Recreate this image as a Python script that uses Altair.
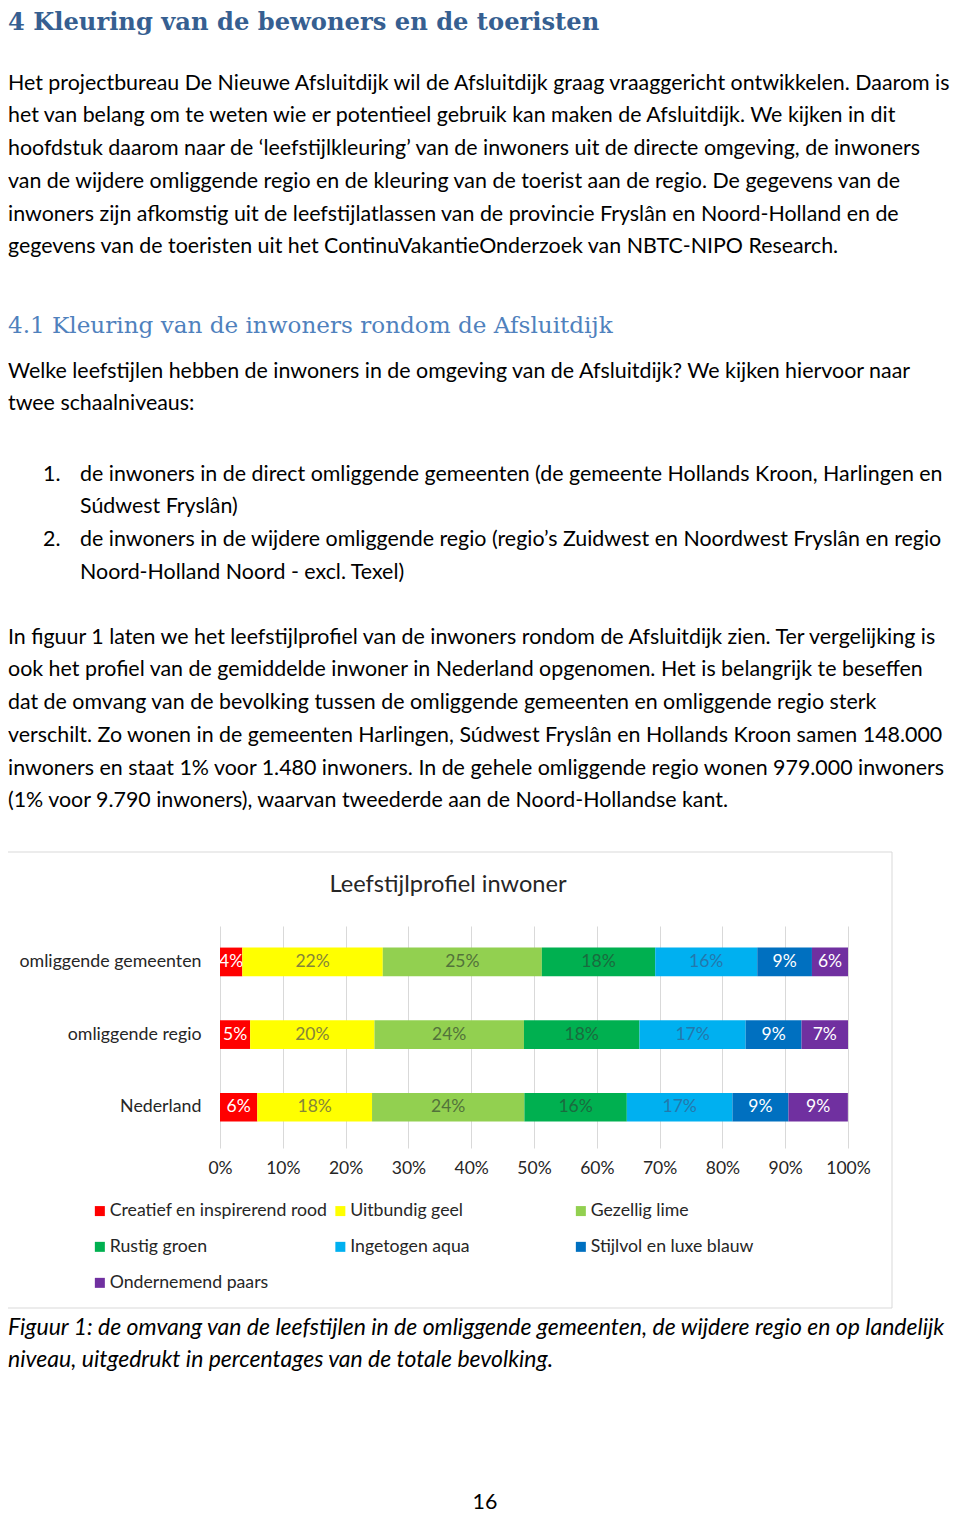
import altair as alt
import pandas as pd

# ---------------- data ----------------
groups = ["omliggende gemeenten", "omliggende regio", "Nederland"]
styles = ["Creatief en inspirerend rood", "Uitbundig geel", "Gezellig lime",
          "Rustig groen", "Ingetogen aqua", "Stijlvol en luxe blauw", "Ondernemend paars"]
gemeenten = [3.55, 22.37, 25.33, 18.05, 16.25, 8.71, 5.74]
regio = [4.8, 19.8, 23.8, 18.4, 16.9, 8.9, 7.4]
nederland = [5.94, 18.27, 24.26, 16.31, 16.82, 8.92, 9.46]
x_ticks = [0, 10, 20, 30, 40, 50, 60, 70, 80, 90, 100]

chart_title = "Leefstijlprofiel inwoner"
heading1 = "4 Kleuring van de bewoners en de toeristen"
heading2 = "4.1 Kleuring van de inwoners rondom de Afsluitdijk"
para1 = [
    "Het projectbureau De Nieuwe Afsluitdijk wil de Afsluitdijk graag vraaggericht ontwikkelen. Daarom is",
    "het van belang om te weten wie er potentieel gebruik kan maken de Afsluitdijk. We kijken in dit",
    "hoofdstuk daarom naar de \u2018leefstijlkleuring\u2019 van de inwoners uit de directe omgeving, de inwoners",
    "van de wijdere omliggende regio en de kleuring van de toerist aan de regio. De gegevens van de",
    "inwoners zijn afkomstig uit de leefstijlatlassen van de provincie Frysl\u00e2n en Noord-Holland en de",
    "gegevens van de toeristen uit het ContinuVakantieOnderzoek van NBTC-NIPO Research.",
]
para2 = [
    "Welke leefstijlen hebben de inwoners in de omgeving van de Afsluitdijk? We kijken hiervoor naar",
    "twee schaalniveaus:",
]
item1 = ["de inwoners in de direct omliggende gemeenten (de gemeente Hollands Kroon, Harlingen en",
         "S\u00fadwest Frysl\u00e2n)"]
item2 = ["de inwoners in de wijdere omliggende regio (regio\u2019s Zuidwest en Noordwest Frysl\u00e2n en regio",
         "Noord-Holland Noord - excl. Texel)"]
para3 = [
    "In figuur 1 laten we het leefstijlprofiel van de inwoners rondom de Afsluitdijk zien. Ter vergelijking is",
    "ook het profiel van de gemiddelde inwoner in Nederland opgenomen. Het is belangrijk te beseffen",
    "dat de omvang van de bevolking tussen de omliggende gemeenten en omliggende regio sterk",
    "verschilt. Zo wonen in de gemeenten Harlingen, S\u00fadwest Frysl\u00e2n en Hollands Kroon samen 148.000",
    "inwoners en staat 1% voor 1.480 inwoners. In de gehele omliggende regio wonen 979.000 inwoners",
    "(1% voor 9.790 inwoners), waarvan tweederde aan de Noord-Hollandse kant.",
]
caption = [
    "Figuur 1: de omvang van de leefstijlen in de omliggende gemeenten, de wijdere regio en op landelijk",
    "niveau, uitgedrukt in percentages van de totale bevolking.",
]
page_no = "16"

# ---------------- styling ----------------
colors = ["#FF0000", "#FFFF00", "#92D050", "#00B050", "#00B0F0", "#0070C0", "#7030A0"]
label_colors = ["#FFFFFF", "#85853A", "#52733A", "#1A6B3E", "#2378AD", "#FFFFFF", "#FFFFFF"]
FONT = "Lato"
SERIF = "DejaVu Serif"
BODY = 21.4
LH = 32.75
TXT = "#262626"

# plot area origin on the page
OX, OY = 220, 926


def px(x):
    return x - OX


def py(y):
    return y - OY


rows = []
for g, vals in zip(groups, [gemeenten, regio, nederland]):
    for i, (s, v) in enumerate(zip(styles, vals)):
        rows.append({"group": g, "style": s, "order": i, "value": v})
df = pd.DataFrame(rows)

base = alt.Chart(df)
y_enc = alt.Y("group:N", sort=groups, title=None,
              scale=alt.Scale(paddingInner=0.605, paddingOuter=0.33, align=0.45),
              axis=alt.Axis(labelPadding=19, ticks=False, domain=False, labelFontSize=17.8,
                            labelColor=TXT, labelFont=FONT, labelLimit=300))
x_scale = alt.Scale(domain=[0, 100], nice=False)

bars = base.mark_bar().encode(
    y=y_enc,
    x=alt.X("value:Q", stack="zero", scale=x_scale, title=None,
            axis=alt.Axis(values=x_ticks, labelExpr="datum.value + '%'", grid=True,
                          gridColor="#d9d9d9", gridWidth=1, ticks=False, domain=False,
                          labelPadding=11, labelFontSize=17.5, labelColor=TXT,
                          labelFont=FONT, labelFlush=False, labelOverlap=False)),
    color=alt.Color("style:N", scale=alt.Scale(domain=styles, range=colors),
                    legend=alt.Legend(orient="none", legendX=px(91), legendY=py(1202),
                                      direction="horizontal", columns=3, gridAlign="all",
                                      columnPadding=3.5, rowPadding=17, symbolType="square",
                                      symbolSize=100, symbolStrokeWidth=0,
                                      labelFontSize=17.7, labelFont=FONT, labelColor=TXT,
                                      labelLimit=400, title=None, labelOffset=1)),
    order=alt.Order("order:Q"),
)

labels = base.transform_stack(
    stack="value", groupby=["group"], sort=[alt.SortField("order")], as_=["v0", "v1"]
).transform_calculate(
    mid="(datum.v0 + datum.v1) / 2", lab="format(datum.value, '.0f') + '%'"
).mark_text(font=FONT, fontSize=17.5).encode(
    y=alt.Y("group:N", sort=groups, title=None),
    x=alt.X("mid:Q", scale=x_scale, title=None),
    text="lab:N",
    fill=alt.Fill("style:N", scale=alt.Scale(domain=styles, range=label_colors), legend=None),
)

one = alt.Data(values=[{}])


def txt(lines, x, y, size=BODY, font=FONT, color="#000000", weight="normal",
        style="normal", align="left", lh=LH):
    return alt.Chart(one).mark_text(
        text=lines, font=font, fontSize=size, color=color, fontWeight=weight,
        fontStyle=style, align=align, baseline="alphabetic", lineHeight=lh
    ).encode(x=alt.value(px(x)), y=alt.value(py(y)))


frame = alt.Chart(one).mark_rect(fill="transparent", stroke="#d9d9d9", strokeWidth=1).encode(
    x=alt.value(px(5)), x2=alt.value(px(892)), y=alt.value(py(852)), y2=alt.value(py(1308))
)

layers = [
    frame,
    bars,
    labels,
    txt(chart_title, 448, 892, size=23.6, color=TXT, align="center"),
    txt(heading1, 8, 30, size=24.2, font=SERIF, color="#365F91", weight="bold"),
    txt(para1, 8, 89.5),
    txt(heading2, 8, 333, size=23.1, font=SERIF, color="#4F81BD"),
    txt(para2, 8, 377.5),
    txt("1.", 43, 480.5),
    txt(item1, 80, 480.5),
    txt("2.", 43, 546),
    txt(item2, 80, 546),
    txt(para3, 8, 643.5),
    txt(caption, 8, 1334.5, size=23, style="italic"),
    txt(page_no, 485, 1508.5, align="center"),
]

chart = alt.layer(*layers).properties(
    width=628, height=222,
    padding={"left": 212, "top": 918, "right": 104, "bottom": 365},
    autosize=alt.AutoSizeParams(type="none"),
).configure_view(stroke=None)

chart.save("out.html", embed_options={"renderer": "svg", "actions": False})
